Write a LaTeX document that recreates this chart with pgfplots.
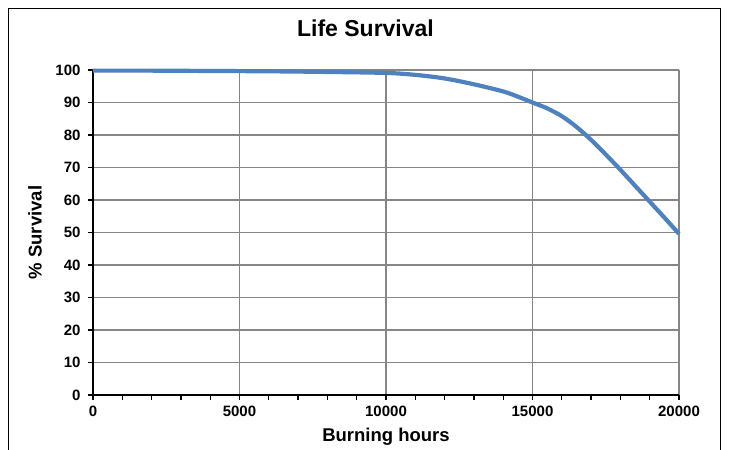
\documentclass[border=0pt]{standalone}
\usepackage{fontspec}
\setmainfont{Liberation Sans}
\usepackage{pgfplots}
\pgfplotsset{compat=1.18}
\definecolor{xlblue}{RGB}{79,129,189}
\definecolor{gridgray}{RGB}{134,134,134}
\begin{document}
\begin{tikzpicture}[x=1pt,y=1pt]
\path[use as bounding box] (0,0) rectangle (729,450);
\draw[line width=1pt, black] (8.5,-5) -- (8.5,441.5) -- (720.5,441.5) -- (720.5,-5);
\begin{axis}[
  at={(93pt,55pt)}, anchor=south west,
  width=586pt, height=325pt, scale only axis,
  xmin=0, xmax=20000, ymin=0, ymax=100,
  xtick={0,5000,10000,15000,20000},
  minor xtick={1000,2000,3000,4000,6000,7000,8000,9000,11000,12000,13000,14000,16000,17000,18000,19000},
  ytick={0,10,20,30,40,50,60,70,80,90,100},
  scaled x ticks=false,
  /pgf/number format/1000 sep={},
  /pgf/number format/assume math mode=true,
  axis lines=left,
  axis line style={-, line width=1.6pt, black},
  tick align=outside,
  major tick length=5pt, minor tick length=5pt,
  every tick/.style={black, line width=1.3pt},
  xmajorgrids, ymajorgrids,
  major grid style={gridgray, line width=1.3pt},
  tick label style={font=\bfseries\fontsize{15}{16}\selectfont},
  xticklabel style={yshift=-2pt},
  yticklabel style={xshift=-4pt},
  title={Life Survival},
  title style={font=\bfseries\fontsize{23}{26}\selectfont, at={(axis description cs:0.465,1.111)}, anchor=center},
  xlabel={Burning hours},
  xlabel style={font=\bfseries\fontsize{18.5}{20}\selectfont, at={(axis description cs:0.5,-0.129)}, anchor=center},
  ylabel={\% Survival},
  ylabel style={font=\bfseries\fontsize{18.5}{20}\selectfont, at={(axis description cs:-0.099,0.5)}, anchor=center, rotate=0},
  clip=false,
]
\addplot[color=xlblue, line width=4.2pt, smooth, tension=0.5] coordinates {
(0,99.8) (2000,99.8) (4000,99.7) (6000,99.6) (8000,99.4) (10000,99.1)
(11000,98.5) (12000,97.4) (13000,95.6) (14000,93.4) (14500,91.8) (15000,90.0)
(15500,88.2) (16000,85.8) (16500,82.5) (17000,78.5) (17500,74.0)
(18000,69.3) (18500,64.4) (19000,59.5) (19500,54.6) (20000,49.6)
};
\end{axis}
\end{tikzpicture}
\end{document}
